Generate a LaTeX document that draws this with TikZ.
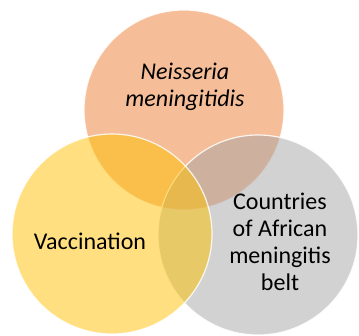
\documentclass[tikz,border=0pt]{standalone}
\usepackage{fontspec}
\setmainfont{Carlito}
\usetikzlibrary{positioning}
\definecolor{germorange}{HTML}{ED7D31}
\definecolor{vaccgold}{HTML}{FFC000}
\definecolor{beltgray}{HTML}{A5A5A5}

\tikzset{
  venncircle/.style={circle, minimum size=200pt, inner sep=0pt, fill opacity=0.5, draw=white, draw opacity=0.85, line width=1.2pt},
  venntext/.style={align=center, font=\fontsize{24}{27}\selectfont, text=black}
}

\begin{document}
\begin{tikzpicture}[x=1pt, y=-1pt]
  \useasboundingbox (0,0) rectangle (359,336);
  % the three sets
  \node[venncircle, fill=germorange] (germ) at (184,110) {};
  \node[venncircle, fill=beltgray] (belt) at (258,235) {};
  \node[venncircle, fill=vaccgold] (vacc) at (112,234) {};
  % labels
  \node[venntext, font=\fontsize{24}{27}\selectfont\itshape] (germlabel) at (185,87) {Neisseria\\meningitidis};
  \node[venntext] (vacclabel) at (90,241) {Vaccination};
  \node[venntext] (beltlabel) at (280,242) {Countries\\of African\\meningitis\\belt};
\end{tikzpicture}
\end{document}
